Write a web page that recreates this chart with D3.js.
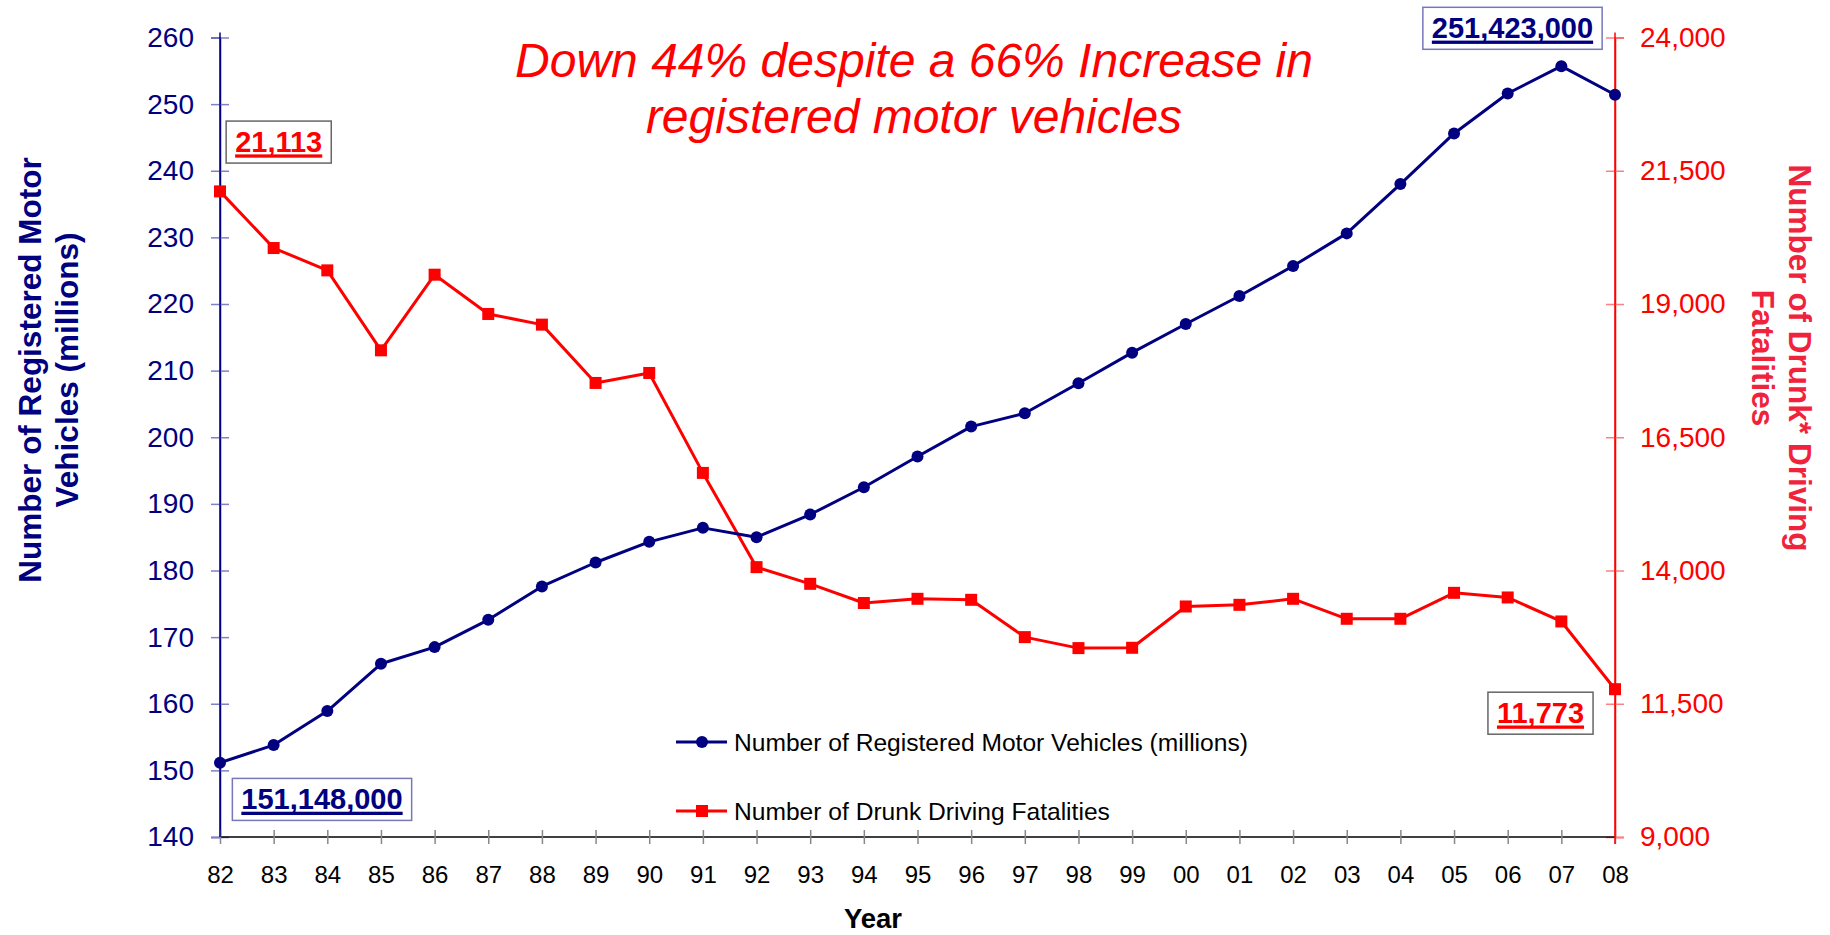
<!DOCTYPE html>
<html>
<head>
<meta charset="utf-8">
<script src="https://cdn.jsdelivr.net/npm/d3@7"></script>
<style>
  html, body { margin: 0; padding: 0; background: #fff; }
  svg { display: block; font-family: "Liberation Sans", Arial, sans-serif; }
</style>
</head>
<body>
<svg id="chart" width="1830" height="935"></svg>
<script>
// ---------------- DATA ----------------
const years = ["82","83","84","85","86","87","88","89","90","91","92","93","94","95","96","97","98","99","00","01","02","03","04","05","06","07","08"];
const vehicles = [151.15, 153.8, 158.9, 166.0, 168.5, 172.6, 177.6, 181.2, 184.3, 186.4, 185.0, 188.4, 192.5, 197.1, 201.6, 203.6, 208.1, 212.7, 217.0, 221.2, 225.7, 230.6, 238.0, 245.6, 251.6, 255.7, 251.4];
const fatalities = [21113, 20050, 19631, 18131, 19550, 18813, 18613, 17519, 17706, 15831, 14063, 13750, 13390, 13469, 13450, 12750, 12544, 12550, 13325, 13356, 13469, 13094, 13094, 13581, 13494, 13044, 11773];
const leftTicks = [140,150,160,170,180,190,200,210,220,230,240,250,260];
const rightTicks = [9000,11500,14000,16500,19000,21500,24000];
const titleLines = ["Down 44% despite a 66% Increase in", "registered motor vehicles"];
const leftTitle = ["Number of Registered Motor", "Vehicles (millions)"];
const rightTitle = ["Number of Drunk* Driving", "Fatalities"];
const legendLabels = ["Number of Registered Motor Vehicles (millions)", "Number of Drunk Driving Fatalities"];
const callouts = [
  {text: "21,113", series: "f", year: "82"},
  {text: "251,423,000", series: "v", year: "08"},
  {text: "151,148,000", series: "v", year: "82"},
  {text: "11,773", series: "f", year: "08"}
];

// ---------------- LAYOUT ----------------
const NAVY = "#000080", RED = "#FF0000";
const svg = d3.select("#chart");
const L = 220, R = 1615, T = 37.5, B = 837;

const x = d3.scalePoint().domain(years).range([L, R]);
const yL = d3.scaleLinear().domain([140, 260]).range([B, T]);
const yR = d3.scaleLinear().domain([9000, 24000]).range([B, T]);

// Left axis
const gL = svg.append("g").attr("transform", `translate(${L},0)`)
  .call(d3.axisLeft(yL).tickValues(leftTicks).tickSize(9).tickPadding(17).tickFormat(d3.format("d")));
gL.select(".domain").attr("stroke", NAVY).attr("stroke-width", 1.5);
gL.selectAll(".tick line").attr("x1", 9).attr("stroke", "#8080c8").attr("stroke-width", 1.5);
gL.selectAll(".tick text").attr("fill", NAVY).attr("font-size", 28).attr("font-family", "Liberation Sans, Arial, sans-serif");

// Right axis
const gR = svg.append("g").attr("transform", `translate(${R},0)`)
  .call(d3.axisRight(yR).tickValues(rightTicks).tickSize(9).tickPadding(16).tickFormat(d3.format(",")));
gR.select(".domain").attr("stroke", RED).attr("stroke-width", 1.5);
gR.selectAll(".tick line").attr("x1", -9).attr("stroke", "#ff8080").attr("stroke-width", 1.5);
gR.selectAll(".tick text").attr("fill", RED).attr("font-size", 28).attr("font-family", "Liberation Sans, Arial, sans-serif");

// X axis
const gX = svg.append("g").attr("transform", `translate(0,${B})`)
  .call(d3.axisBottom(x).tickSize(7).tickPadding(22));
gX.select(".domain").attr("stroke", "#000").attr("stroke-width", 1.5).attr("d", `M${L},0H${R}`);
gX.selectAll(".tick line").attr("y1", -7).attr("stroke", "#888").attr("stroke-width", 1.5);
gX.selectAll(".tick text").attr("fill", "#000").attr("font-size", 24).attr("font-family", "Liberation Sans, Arial, sans-serif");

// redraw axis lines on top of x-axis
svg.append("line").attr("x1", L).attr("x2", L).attr("y1", T - 5).attr("y2", B).attr("stroke", NAVY).attr("stroke-width", 1.5);
svg.append("line").attr("x1", R).attr("x2", R).attr("y1", T - 5).attr("y2", B + 7).attr("stroke", RED).attr("stroke-width", 1.5);

// Axis titles
svg.append("text").attr("x", 873).attr("y", 928).attr("text-anchor", "middle")
  .attr("font-size", 27.5).attr("font-weight", "bold").attr("fill", "#000").text("Year");

leftTitle.forEach((t, i) => {
  svg.append("text")
    .attr("transform", `translate(${41 + i * 37},370) rotate(-90)`)
    .attr("text-anchor", "middle").attr("font-size", 31.5).attr("font-weight", "bold")
    .attr("fill", NAVY).text(t);
});
rightTitle.forEach((t, i) => {
  svg.append("text")
    .attr("transform", `translate(${1789 - i * 37},358) rotate(90)`)
    .attr("text-anchor", "middle").attr("font-size", 31.5).attr("font-weight", "bold")
    .attr("fill", "#F0233C").text(t);
});

// Chart title
titleLines.forEach((t, i) => {
  svg.append("text").attr("x", 914).attr("y", 77 + i * 56)
    .attr("text-anchor", "middle").attr("font-size", 48).attr("font-style", "italic")
    .attr("fill", RED).text(t);
});

// Lines
const lineV = d3.line().x((d, i) => x(years[i])).y(d => yL(d));
const lineF = d3.line().x((d, i) => x(years[i])).y(d => yR(d));

svg.append("path").datum(fatalities).attr("d", lineF).attr("fill", "none")
  .attr("stroke", RED).attr("stroke-width", 3).attr("stroke-linejoin", "round");
svg.selectAll("rect.fm").data(fatalities).join("rect").attr("class", "fm")
  .attr("x", (d, i) => x(years[i]) - 6).attr("y", d => yR(d) - 6)
  .attr("width", 12).attr("height", 12).attr("fill", RED);

svg.append("path").datum(vehicles).attr("d", lineV).attr("fill", "none")
  .attr("stroke", NAVY).attr("stroke-width", 3).attr("stroke-linejoin", "round");
svg.selectAll("circle.vm").data(vehicles).join("circle").attr("class", "vm")
  .attr("cx", (d, i) => x(years[i])).attr("cy", d => yL(d)).attr("r", 6).attr("fill", NAVY);

// Legend
const legend = [
  {label: legendLabels[0], color: NAVY, shape: "circle", y: 742},
  {label: legendLabels[1], color: RED, shape: "square", y: 811}
];
legend.forEach(l => {
  const g = svg.append("g");
  g.append("line").attr("x1", 676).attr("x2", 727).attr("y1", l.y).attr("y2", l.y)
    .attr("stroke", l.color).attr("stroke-width", 3);
  if (l.shape === "circle") g.append("circle").attr("cx", 702).attr("cy", l.y).attr("r", 6).attr("fill", l.color);
  else g.append("rect").attr("x", 696).attr("y", l.y - 6).attr("width", 12).attr("height", 12).attr("fill", l.color);
  g.append("text").attr("x", 734).attr("y", l.y).attr("dy", "0.36em").attr("font-size", 24.6)
    .attr("fill", "#000").text(l.label);
});

// Callouts (offsets from the annotated point)
const offsets = {
  "21,113": {dx: 58.7, dy: -49.3, color: RED, border: "#666"},
  "251,423,000": {dx: -102.5, dy: -66.5, color: NAVY, border: "#7777bb"},
  "151,148,000": {dx: 102, dy: 36.7, color: NAVY, border: "#7777bb"},
  "11,773": {dx: -74.5, dy: 24, color: RED, border: "#666"}
};
callouts.forEach(c => {
  const o = offsets[c.text];
  const idx = years.indexOf(c.year);
  const px = x(c.year);
  const py = c.series === "v" ? yL(vehicles[idx]) : yR(fatalities[idx]);
  const cx = px + o.dx, cy = py + o.dy;
  const g = svg.append("g");
  const box = g.append("rect").attr("fill", "#fff").attr("stroke", o.border).attr("stroke-width", 1.5);
  const txt = g.append("text").attr("x", cx).attr("y", cy + 10).attr("text-anchor", "middle")
    .attr("font-size", 29).attr("font-weight", "bold").attr("fill", o.color).text(c.text);
  const w = txt.node().getComputedTextLength();
  box.attr("x", cx - w / 2 - 9).attr("y", cy - 21).attr("width", w + 18).attr("height", 42);
  g.append("rect").attr("x", cx - w / 2).attr("y", cy + 12.3).attr("width", w).attr("height", 3.3).attr("fill", o.color);
});
</script>
</body>
</html>
